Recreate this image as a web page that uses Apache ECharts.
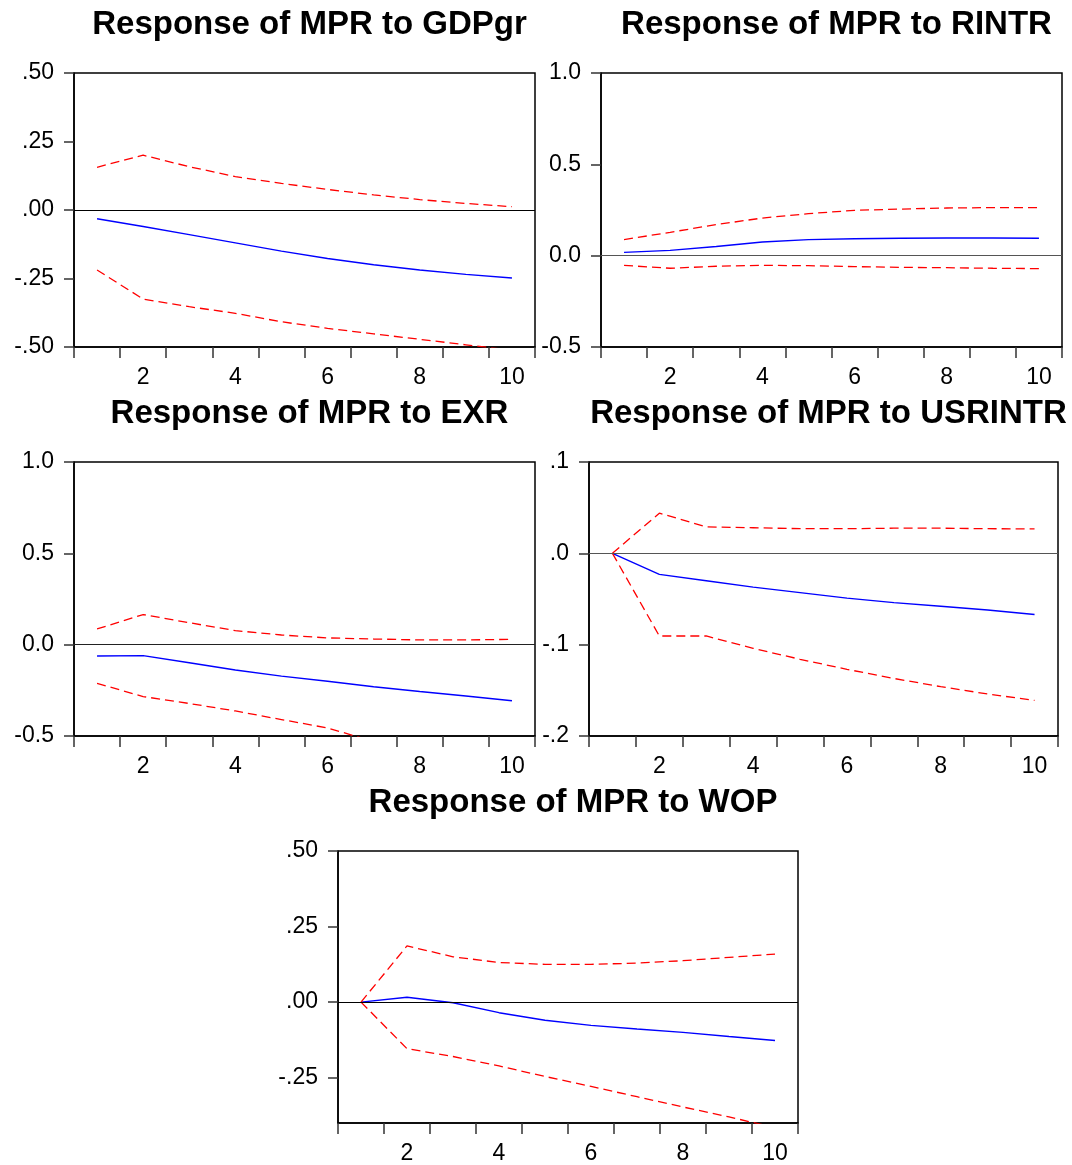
<!DOCTYPE html>
<html>
<head>
<meta charset="utf-8">
<script src="https://cdn.jsdelivr.net/npm/echarts@6/dist/echarts.min.js"></script>
<style>
html,body{margin:0;padding:0;background:#fff;}
#chart{width:1072px;height:1165px;}
</style>
</head>
<body>
<div id="chart"></div>
<script>
// Periods
const periods = ['1','2','3','4','5','6','7','8','9','10'];

// Titles
const titles = [
  'Response of MPR to GDPgr',
  'Response of MPR to RINTR',
  'Response of MPR to EXR',
  'Response of MPR to USRINTR',
  'Response of MPR to WOP'
];

// Response of MPR to GDPgr
const gdpResp  = [-0.032, -0.060, -0.090, -0.120, -0.150, -0.177, -0.200, -0.219, -0.235, -0.248];
const gdpUpper = [0.156, 0.200, 0.158, 0.122, 0.097, 0.075, 0.055, 0.038, 0.024, 0.012];
const gdpLower = [-0.219, -0.325, -0.353, -0.377, -0.408, -0.432, -0.452, -0.472, -0.492, -0.512];

// Response of MPR to RINTR
const rintrResp  = [0.018, 0.029, 0.050, 0.075, 0.088, 0.093, 0.095, 0.097, 0.097, 0.095];
const rintrUpper = [0.088, 0.128, 0.170, 0.206, 0.230, 0.248, 0.255, 0.261, 0.263, 0.263];
const rintrLower = [-0.053, -0.069, -0.058, -0.053, -0.055, -0.060, -0.064, -0.066, -0.069, -0.071];

// Response of MPR to EXR
const exrResp  = [-0.062, -0.060, -0.099, -0.139, -0.172, -0.200, -0.230, -0.256, -0.281, -0.307];
const exrUpper = [0.086, 0.165, 0.120, 0.077, 0.053, 0.037, 0.031, 0.026, 0.026, 0.029];
const exrLower = [-0.212, -0.284, -0.322, -0.363, -0.410, -0.456, -0.530, -0.575, -0.615, -0.655];

// Response of MPR to USRINTR
const usResp  = [0.000, -0.023, -0.030, -0.037, -0.043, -0.049, -0.054, -0.058, -0.062, -0.067];
const usUpper = [0.000, 0.044, 0.029, 0.028, 0.027, 0.027, 0.0275, 0.0275, 0.027, 0.0267];
const usLower = [0.000, -0.0905, -0.0905, -0.104, -0.116, -0.127, -0.137, -0.146, -0.154, -0.161];

// Response of MPR to WOP
const wopResp  = [0.000, 0.016, -0.002, -0.035, -0.060, -0.077, -0.089, -0.100, -0.114, -0.127];
const wopUpper = [0.000, 0.186, 0.150, 0.131, 0.125, 0.125, 0.129, 0.137, 0.148, 0.159];
const wopLower = [0.000, -0.154, -0.180, -0.211, -0.246, -0.279, -0.313, -0.347, -0.380, -0.415];

// Y-axis tick values
const yTicks1 = [-0.5, -0.25, 0, 0.25, 0.5];
const yTicks2 = [-0.5, 0, 0.5, 1.0];
const yTicks3 = [-0.5, 0, 0.5, 1.0];
const yTicks4 = [-0.2, -0.1, 0, 0.1];
const yTicks5 = [-0.25, 0, 0.25, 0.5];

function clean(v){ return Math.abs(v) < 1e-9 ? 0 : v; }
function fmtDot(d){ return function(v){ return clean(v).toFixed(d).replace('0.', '.'); }; }
function fmtStd(d){ return function(v){ return clean(v).toFixed(d); }; }

const panels = [
  {title: titles[0], grid:{left:74, top:73, width:461, height:274}, min:-0.5, max:0.5, ticks:yTicks1, fmt:fmtDot(2), resp:gdpResp, up:gdpUpper, lo:gdpLower, zero:'#000'},
  {title: titles[1], grid:{left:601, top:73, width:461, height:274}, min:-0.5, max:1.0, ticks:yTicks2, fmt:fmtStd(1), resp:rintrResp, up:rintrUpper, lo:rintrLower, zero:'#555'},
  {title: titles[2], grid:{left:74, top:462, width:461, height:274}, min:-0.5, max:1.0, ticks:yTicks3, fmt:fmtStd(1), resp:exrResp, up:exrUpper, lo:exrLower, zero:'#222'},
  {title: titles[3], grid:{left:589, top:462, width:469, height:274}, min:-0.2, max:0.1, ticks:yTicks4, fmt:fmtDot(1), resp:usResp, up:usUpper, lo:usLower, zero:'#555'},
  {title: titles[4], grid:{left:338, top:851, width:460, height:275}, min:-0.4, max:0.5, ticks:yTicks5, fmt:fmtDot(2), resp:wopResp, up:wopUpper, lo:wopLower, zero:'#000'}
];

const FONT = '"Liberation Sans", Arial, sans-serif';
const option = {
  animation: false,
  backgroundColor: '#fff',
  title: [], grid: [], xAxis: [], yAxis: [], series: []
};

panels.forEach(function(p, i){
  option.title.push({
    text: p.title,
    left: p.grid.left + p.grid.width/2,
    top: p.grid.top - 53,
    textAlign: 'center',
    textVerticalAlign: 'middle',
    textStyle: {fontFamily: FONT, fontWeight: 'bold', fontSize: 33, color: '#000'}
  });
  option.grid.push(Object.assign({show:true, borderColor:'#000', borderWidth:1.5, backgroundColor:'transparent'}, p.grid));
  option.xAxis.push({
    type: 'category', gridIndex: i, data: periods, boundaryGap: true,
    axisLine: {show: true, onZero: false, lineStyle: {color:'#000', width:1.5}},
    axisTick: {show: true, interval: 0, length: 11, lineStyle: {color:'#333', width:1.5}},
    axisLabel: {interval: function(idx){ return idx % 2 === 1; }, margin: 19, fontFamily: FONT, fontSize: 23, color: '#000'},
    splitLine: {show: false}
  });
  option.yAxis.push({
    type: 'value', gridIndex: i, min: p.min, max: p.max,
    axisLine: {show: true, onZero: false, lineStyle: {color:'#000', width:1.5}},
    axisTick: {show: true, length: 10, customValues: p.ticks, lineStyle: {color:'#333', width:1.5}},
    axisLabel: {customValues: p.ticks, formatter: p.fmt, margin: 20, fontFamily: FONT, fontSize: 23, color: '#000'},
    splitLine: {show: false}
  });
  option.series.push({
    type: 'line', xAxisIndex: i, yAxisIndex: i, data: p.resp, symbol: 'none', clip: true,
    lineStyle: {color:'#0000ff', width: 1.4},
    markLine: {silent: true, symbol: ['none','none'], label: {show:false},
      lineStyle: {color: p.zero, width: 1, type: 'solid'}, data: [{yAxis: 0}]},
    z: 3
  });
  option.series.push({
    type: 'line', xAxisIndex: i, yAxisIndex: i, data: p.up, symbol: 'none', clip: true,
    lineStyle: {color:'#ff0000', width: 1.3, type: [9,5]}, z: 3
  });
  option.series.push({
    type: 'line', xAxisIndex: i, yAxisIndex: i, data: p.lo, symbol: 'none', clip: true,
    lineStyle: {color:'#ff0000', width: 1.3, type: [9,5]}, z: 3
  });
});

const chart = echarts.init(document.getElementById('chart'), null, {renderer: 'canvas'});
chart.setOption(option);
</script>
</body>
</html>
